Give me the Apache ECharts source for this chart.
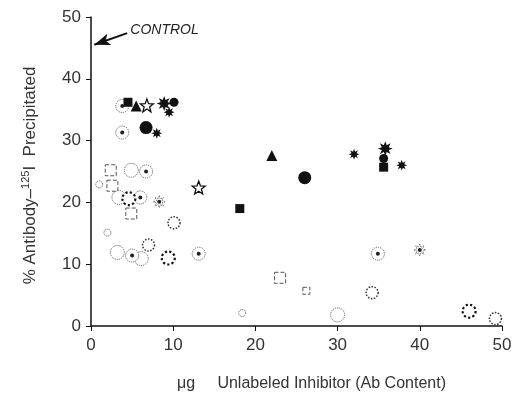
<!DOCTYPE html>
<html><head><meta charset="utf-8">
<script src="https://cdn.jsdelivr.net/npm/echarts@6/dist/echarts.min.js"></script>
<style>html,body{margin:0;padding:0;background:#fff}#c{width:517px;height:404px}</style>
</head><body><div id="c"></div>
<script>
// Data: [µg inhibitor, % precipitated]
const xTicks = [0, 10, 20, 30, 40, 50];
const yTicks = [0, 10, 20, 30, 40, 50];
const filledSquare = [[4.5,36.2],[18.1,19.0],[35.6,25.7]];
const filledTriangle = [[5.5,35.6],[22.0,27.6]];
const filledCircleBig = [[6.7,32.1],[26.0,24.0]];
const filledCircleSmall = [[10.1,36.2],[35.6,27.1]];
const asteriskBig = [[8.9,36.0],[35.8,28.7]];
const asteriskSmall = [[9.5,34.6],[8.0,31.2],[32.0,27.8],[37.8,26.0]];
const openStar = [[6.8,35.7],[13.1,22.4]];
const openCircle = [[4.9,25.2],[3.4,20.8],[3.2,11.9],[6.1,10.9],[30.0,1.8]];
const openCircleSmall = [[18.4,2.1],[1.0,22.9],[2.0,15.1]];
const boldCircle = [[4.6,20.6],[9.4,11.0],[46.0,2.4]];
const dotCircle = [[3.8,35.6],[3.8,31.3],[6.7,25.0],[6.0,20.8],[13.1,11.7],[34.9,11.7],[5.0,11.4]];
const dottedBurst = [[8.3,20.1],[40.0,12.3]];
const dottedCircle = [[10.1,16.7],[7.0,13.1],[34.2,5.4],[49.2,1.2]];
const openSquare = [[2.4,25.2],[2.6,22.7],[4.9,18.2],[23.0,7.8]];
const openSquareSmall = [[26.2,5.7]];
const controlArrow = [[4.4,47.4],[0.4,45.5]];
const controlLabel = [4.9,47.9];

function burstPath(n, rIn){
  let p='';
  for(let i=0;i<2*n;i++){
    const r = i%2===0?50:50*rIn;
    const a = Math.PI*i/n - Math.PI/2;
    p += (i===0?'M':'L') + (50+r*Math.cos(a)).toFixed(2)+' '+(50+r*Math.sin(a)).toFixed(2)+' ';
  }
  return 'path://'+p+'Z';
}
const ASTER = burstPath(8, 0.5);
const STAR = burstPath(5, 0.42);
const BLK = '#111';
const GRY = '#555';
function s(data, symbol, size, style, z){
  return {type:'scatter', data, symbol, symbolSize:size, itemStyle:Object.assign({opacity:1}, style), z:z||2, silent:true, animation:false};
}
const filled = {color:BLK};
const hollow = (w,type,c)=>({color:'#fff', borderColor:c||GRY, borderWidth:w, borderType:type||'dotted'});

const chart = echarts.init(document.getElementById('c'));
chart.setOption({
  animation:false,
  grid:{left:91, right:15, top:17, bottom:78},
  xAxis:{type:'value', min:xTicks[0], max:xTicks[xTicks.length-1], interval:10,
    axisLine:{onZero:false, lineStyle:{color:'#111', width:1.5}},
    axisTick:{inside:false, length:5, lineStyle:{color:'#111'}},
    splitLine:{show:false},
    axisLabel:{color:'#333', fontSize:17, fontFamily:'Liberation Sans', margin:11},
    name:'\u03bcg     Unlabeled Inhibitor (Ab Content)', nameLocation:'middle', nameGap:50,
    nameTextStyle:{color:'#333', fontSize:16, fontFamily:'Liberation Sans', padding:[0,0,0,30]}
  },
  yAxis:{type:'value', min:yTicks[0], max:yTicks[yTicks.length-1], interval:10,
    axisLine:{onZero:false, lineStyle:{color:'#111', width:1.5}},
    axisTick:{inside:false, length:5, lineStyle:{color:'#111'}},
    splitLine:{show:false},
    axisLabel:{color:'#333', fontSize:17, fontFamily:'Liberation Sans', margin:10},
    name:'% Antibody\u2013{sup|125}I  Precipitated', nameLocation:'middle', nameGap:51,
    nameTextStyle:{color:'#333', fontSize:17, fontFamily:'Liberation Sans', padding:[0,8,0,0],
      rich:{sup:{fontSize:11, verticalAlign:'top', padding:[0,0,9,0], color:'#333', fontFamily:'Liberation Sans'}}}
  },
  series:[
    s(openCircle,'circle',14,hollow(1,'dotted')),
    s(openCircleSmall,'circle',7,hollow(1,'dotted')),
    s(dottedCircle,'circle',12,hollow(1.5,'dotted','#333')),
    s(boldCircle,'circle',13,hollow(2.2,'dotted','#111'),3),
    s(dotCircle,'circle',13,hollow(1,'dotted')),
    s(dotCircle,'circle',4,{color:'#222'},4),
    s(dottedBurst,ASTER,12,hollow(1,'dotted')),
    s(dottedBurst,'circle',4,{color:'#222'},4),
    s(openSquare,'rect',11,hollow(1,'dashed')),
    s(openSquareSmall,'rect',7,hollow(1,'dashed')),
    s(openStar,STAR,13,{color:'#fff', borderColor:BLK, borderWidth:1.3},5),
    s(filledSquare,'rect',9,filled,6),
    s(filledTriangle,'triangle',11,filled,6),
    s(filledCircleBig,'circle',13,filled,6),
    s(filledCircleSmall,'circle',9,filled,6),
    s(asteriskBig,ASTER,15,filled,6),
    s(asteriskSmall,ASTER,11,filled,6),
    {type:'scatter', data:[], silent:true, animation:false,
      markLine:{silent:true, animation:false, symbol:['none','arrow'], symbolSize:[9,16],
        lineStyle:{color:BLK, width:2, type:'solid'}, label:{show:false},
        data:[[{coord:controlArrow[0]},{coord:controlArrow[1]}]]},
      markPoint:{symbol:'circle', symbolSize:0, animation:false,
        data:[{coord:controlLabel, label:{show:true, formatter:'CONTROL', position:'right', color:'#222', fontSize:14, fontStyle:'italic', fontFamily:'Liberation Sans', offset:[-6,0]}}]}}
  ]
});
</script></body></html>
